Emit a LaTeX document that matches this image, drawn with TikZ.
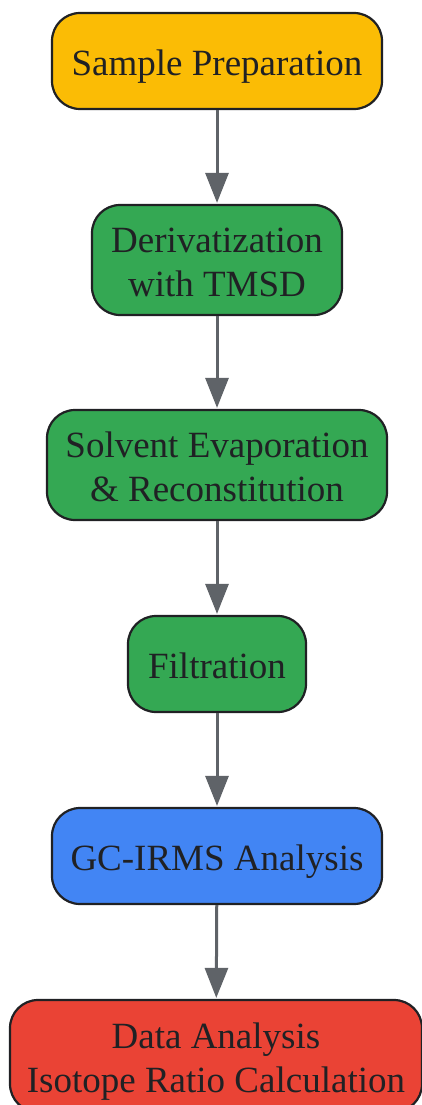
\documentclass[tikz,border=0pt]{standalone}
\usepackage{fontspec}
\setmainfont{Liberation Serif}
\usetikzlibrary{arrows.meta}
\definecolor{gyellow}{HTML}{FBBC05}
\definecolor{ggreen}{HTML}{34A853}
\definecolor{gblue}{HTML}{4285F4}
\definecolor{gred}{HTML}{EA4335}
\definecolor{edgec}{HTML}{202124}
\definecolor{arrowc}{HTML}{5F6368}
\definecolor{textc}{HTML}{202124}
\newcommand\topstrutx{\rule{0pt}{29pt}}
\tikzset{
  flowbox/.style={draw=edgec, line width=2.2pt, rounded corners=28pt, inner sep=0pt,
    align=center, text=textc, font=\fontsize{37}{44}\selectfont},
  flowarrow/.style={draw=arrowc, line width=3pt, -{Triangle[length=30pt,width=23pt]}, shorten >=1pt}
}
\begin{document}
\begin{tikzpicture}[x=1pt,y=-1pt]
\useasboundingbox (0,0) rectangle (421,1105);
\node[flowbox, fill=gyellow, minimum width=330pt, minimum height=96pt] (a) at (217,61) {\topstrutx\smash{Sample Preparation}};
\node[flowbox, fill=ggreen, minimum width=250pt, minimum height=110pt] (b) at (217,260) {\topstrutx Derivatization\\\smash{with TMSD}};
\node[flowbox, fill=ggreen, minimum width=340pt, minimum height=110pt] (c) at (217,465) {\topstrutx Solvent Evaporation\\\smash{\& Reconstitution}};
\node[flowbox, fill=ggreen, minimum width=178pt, minimum height=96pt] (d) at (217,664) {\topstrutx\smash{Filtration}};
\node[flowbox, fill=gblue, minimum width=330pt, minimum height=96pt] (e) at (217,856) {\topstrutx\smash{GC-IRMS Analysis}};
\node[flowbox, fill=gred, minimum width=412pt, minimum height=112pt] (f) at (216,1056) {\topstrutx Data Analysis\\\smash{Isotope Ratio Calculation}};
\draw[flowarrow] (a) -- (b);
\draw[flowarrow] (b) -- (c);
\draw[flowarrow] (c) -- (d);
\draw[flowarrow] (d) -- (e);
\draw[flowarrow] (e) -- (f);
\end{tikzpicture}
\end{document}
